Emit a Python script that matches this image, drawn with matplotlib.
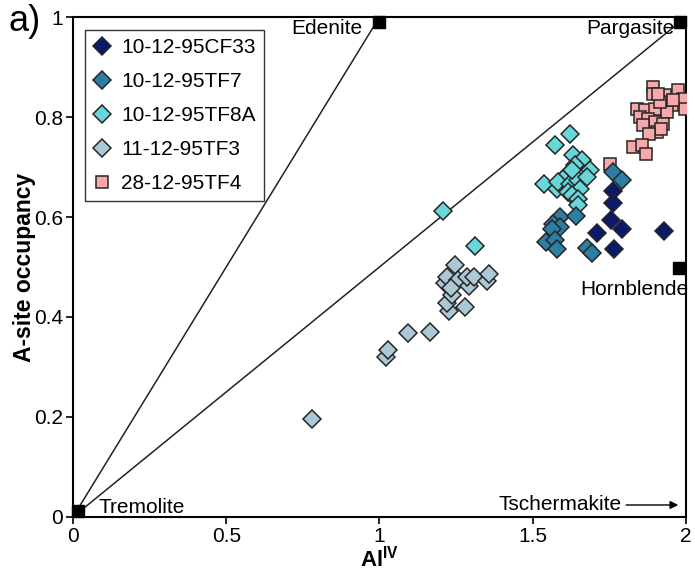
import matplotlib
matplotlib.use("Agg")
import matplotlib.pyplot as plt

plt.rcParams['font.family'] = ['Liberation Sans', 'DejaVu Sans']
plt.rcParams['mathtext.fontset'] = 'custom'
plt.rcParams['mathtext.rm'] = 'Liberation Sans'
plt.rcParams['mathtext.bf'] = 'Liberation Sans:bold'

# Sample analyses: Al(IV) vs A-site occupancy
cf33_x = [1.761, 1.761, 1.754, 1.790, 1.709, 1.765, 1.928]
cf33_y = [0.653, 0.629, 0.594, 0.577, 0.569, 0.537, 0.573]

tf7_x = [1.589, 1.567, 1.589, 1.562, 1.640, 1.543, 1.573, 1.578, 1.676, 1.695, 1.763, 1.790]
tf7_y = [0.601, 0.587, 0.581, 0.577, 0.602, 0.551, 0.554, 0.537, 0.539, 0.529, 0.691, 0.674]

tf8a_x = [1.208, 1.312, 1.622, 1.573, 1.537, 1.578, 1.632, 1.660, 1.687, 1.616, 1.600,
          1.583, 1.622, 1.649, 1.676, 1.654, 1.616, 1.627, 1.649, 1.649, 1.638, 1.627]
tf8a_y = [0.613, 0.543, 0.766, 0.744, 0.667, 0.657, 0.724, 0.714, 0.694, 0.687, 0.677,
          0.671, 0.667, 0.674, 0.681, 0.657, 0.651, 0.644, 0.637, 0.624, 0.704, 0.694]

tf3_x = [0.779, 1.021, 1.029, 1.094, 1.164, 1.226, 1.279, 1.219, 1.237, 1.214, 1.219,
         1.246, 1.257, 1.291, 1.284, 1.308, 1.350, 1.358, 1.232]
tf3_y = [0.195, 0.319, 0.334, 0.367, 0.369, 0.411, 0.419, 0.427, 0.443, 0.469, 0.481,
         0.504, 0.474, 0.462, 0.481, 0.481, 0.473, 0.486, 0.457]

tf4_x = [1.893, 1.891, 1.931, 1.975, 1.991, 1.997, 1.953, 1.839, 1.866, 1.899, 1.937,
         1.915, 1.850, 1.877, 1.899, 1.926, 1.861, 1.904, 1.920, 1.880, 1.828, 1.855,
         1.869, 1.752, 1.958, 1.910]
tf4_y = [0.861, 0.846, 0.844, 0.854, 0.837, 0.817, 0.824, 0.817, 0.814, 0.817, 0.811,
         0.831, 0.801, 0.797, 0.791, 0.787, 0.784, 0.771, 0.777, 0.766, 0.741, 0.744,
         0.727, 0.706, 0.834, 0.846]

# End-member compositions
end_names = ['Tremolite', 'Edenite', 'Pargasite', 'Hornblende']
end_x = [0.016, 1.0, 1.98, 1.977]
end_y = [0.012, 0.99, 0.99, 0.498]

fig = plt.figure(figsize=(6.95, 5.75), dpi=100)
ax = fig.add_axes([0.105, 0.1009, 0.882, 0.8695])

# Substitution vectors from tremolite
ax.plot([0, 1], [0, 1], color='#222222', lw=1.1, zorder=1)
ax.plot([0, 2], [0, 1], color='#222222', lw=1.1, zorder=1)

edge = '#262626'
dms = 8.7
sms = 9.0
h_tf4, = ax.plot(tf4_x, tf4_y, 's', ms=sms, mfc='#f6a8aa', mec=edge, mew=1.1,
                 ls='none', label='28-12-95TF4', zorder=3)
h_tf3, = ax.plot(tf3_x, tf3_y, 'D', ms=dms, mfc='#aac8d6', mec=edge, mew=1.1,
                 ls='none', label='11-12-95TF3', zorder=3)
h_tf8a, = ax.plot(tf8a_x, tf8a_y, 'D', ms=dms, mfc='#66d8da', mec=edge, mew=1.1,
                  ls='none', label='10-12-95TF8A', zorder=3)
h_tf7, = ax.plot(tf7_x, tf7_y, 'D', ms=dms, mfc='#2c7ea5', mec=edge, mew=1.1,
                 ls='none', label='10-12-95TF7', zorder=4)
h_cf33, = ax.plot(cf33_x, cf33_y, 'D', ms=dms, mfc='#0a196a', mec=edge, mew=1.1,
                  ls='none', label='10-12-95CF33', zorder=4)

ax.plot(end_x, end_y, 's', ms=8, color='black', ls='none', zorder=5, clip_on=False)

fs = 15
ax.text(0.943, 0.978, 'Edenite', ha='right', va='center', fontsize=fs)
ax.text(1.961, 0.978, 'Pargasite', ha='right', va='center', fontsize=fs)
ax.text(1.83, 0.454, 'Hornblende', ha='center', va='center', fontsize=fs)
ax.text(0.082, 0.018, 'Tremolite', ha='left', va='center', fontsize=fs)
ax.text(1.79, 0.024, 'Tschermakite', ha='right', va='center', fontsize=fs)
ax.annotate('', xy=(1.975, 0.024), xytext=(1.805, 0.024),
            arrowprops=dict(arrowstyle='-|>', color='black', lw=1.0,
                            mutation_scale=12, shrinkA=0, shrinkB=0))

ax.set_xlim(0, 2)
ax.set_ylim(0, 1)
ax.set_xticks([0, 0.5, 1, 1.5, 2])
ax.set_xticklabels(['0', '0.5', '1', '1.5', '2'])
ax.set_yticks([0, 0.2, 0.4, 0.6, 0.8, 1])
ax.set_yticklabels(['0', '0.2', '0.4', '0.6', '0.8', '1'])
ax.tick_params(direction='out', length=5, width=1.2, labelsize=fs, pad=2)
for s in ax.spines.values():
    s.set_linewidth(1.5)

ax.set_xlabel(r'Al$^{\mathbf{IV}}$', fontsize=16, fontweight='bold', labelpad=0)
ax.set_ylabel('A-site occupancy', fontsize=16.5, fontweight='bold', labelpad=-1)

fig.text(0.012, 0.962, 'a)', fontsize=26, va='center', ha='left')

leg = ax.legend(handles=[h_cf33, h_tf7, h_tf8a, h_tf3, h_tf4], loc='upper left',
                fontsize=fs, frameon=True, fancybox=False, edgecolor='black',
                borderaxespad=0.6, handlelength=0.8, handletextpad=0.5,
                labelspacing=0.72, borderpad=0.4)
leg.get_frame().set_linewidth(1.0)

fig.savefig('out.png', dpi=100)
